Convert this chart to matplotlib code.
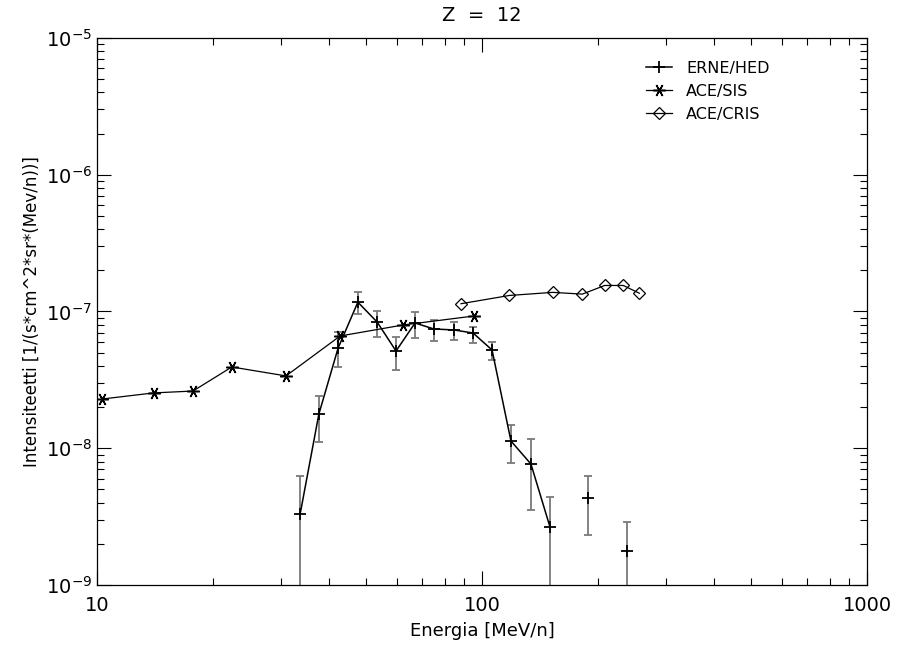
import matplotlib.pyplot as plt
from matplotlib.ticker import LogLocator, NullFormatter

# ERNE/HED (connected part)
erne_e = [33.7, 37.7, 42.3, 47.6, 53.4, 59.8, 67.0, 75.0, 84.6, 94.8, 106.2, 118.9, 134.0, 150.2]
erne_i = [3.30e-9, 1.78e-8, 5.41e-8, 1.17e-7, 8.38e-8, 5.14e-8, 8.24e-8, 7.45e-8, 7.33e-8,
          6.96e-8, 5.23e-8, 1.13e-8, 7.67e-9, 2.65e-9]
erne_lo = [1e-12, 1.12e-8, 3.91e-8, 9.59e-8, 6.55e-8, 3.73e-8, 6.43e-8, 6.08e-8, 6.19e-8,
           5.91e-8, 4.42e-8, 7.84e-9, 3.53e-9, 1e-12]
erne_hi = [6.30e-9, 2.42e-8, 7.12e-8, 1.39e-7, 1.01e-7, 6.51e-8, 9.91e-8, 8.67e-8, 8.38e-8,
           7.74e-8, 6.01e-8, 1.48e-8, 1.17e-8, 4.43e-9]
# ERNE/HED points not joined by the line
erne2_e = [188.5, 238.1]
erne2_i = [4.33e-9, 1.77e-9]
erne2_lo = [2.33e-9, 1e-12]
erne2_hi = [6.30e-9, 2.90e-9]

sis_e = [10.3, 14.06, 17.76, 22.4, 30.97, 42.8, 62.4, 95.3]
sis_i = [2.29e-8, 2.54e-8, 2.62e-8, 3.93e-8, 3.38e-8, 6.62e-8, 7.97e-8, 9.27e-8]

cris_e = [88.2, 117.8, 152.6, 182.2, 208.3, 232.8, 256.2]
cris_i = [1.14e-7, 1.31e-7, 1.38e-7, 1.34e-7, 1.55e-7, 1.55e-7, 1.36e-7]

plt.rcParams['font.family'] = 'DejaVu Sans'
fig = plt.figure(figsize=(8.97, 6.47), dpi=100)
ax = fig.add_axes([0.1081, 0.0958, 0.8585, 0.8455])
ax.set_xscale('log')
ax.set_yscale('log')

grey = '#7a7a7a'
for e, i, lo, hi in [(erne_e, erne_i, erne_lo, erne_hi), (erne2_e, erne2_i, erne2_lo, erne2_hi)]:
    ax.errorbar(e, i, yerr=[[a - b for a, b in zip(i, lo)], [b - a for a, b in zip(i, hi)]],
                fmt='none', ecolor=grey, elinewidth=1.3, capsize=3, capthick=1.3, zorder=2)

ax.plot(erne_e, erne_i, color='black', lw=1.1, marker='+', ms=9, mew=1.3, label='ERNE/HED', zorder=3)
ax.plot(erne2_e, erne2_i, ls='none', color='black', marker='+', ms=9, mew=1.3, zorder=3)
ax.plot(sis_e, sis_i, color='black', lw=0.9, marker=(6, 2, 90), ms=9, mew=1.1, label='ACE/SIS', zorder=3)
ax.plot(cris_e, cris_i, color='black', lw=0.9, marker='D', ms=6, mfc='none', mew=0.9,
        label='ACE/CRIS', zorder=3)

ax.set_xlim(10, 1000)
ax.set_ylim(1e-9, 1e-5)
ax.xaxis.set_minor_locator(LogLocator(base=10, subs=range(2, 10)))
ax.yaxis.set_minor_locator(LogLocator(base=10, subs=range(2, 10)))
ax.xaxis.set_minor_formatter(NullFormatter())
ax.yaxis.set_minor_formatter(NullFormatter())
ax.set_xticks([10, 100, 1000])
ax.set_xticklabels(['10', '100', '1000'])
ax.tick_params(which='both', direction='in', top=True, right=True, labelsize=14, width=0.8)
ax.tick_params(which='major', length=10)
ax.tick_params(which='minor', length=5)
ax.tick_params(axis='x', pad=8)
for s in ax.spines.values():
    s.set_linewidth(0.9)

ax.set_title('Z  =  12', fontsize=14, pad=12)
ax.set_xlabel('Energia [MeV/n]', fontsize=13, labelpad=5)
ax.set_ylabel('Intensiteetti [1/(s*cm^2*sr*(Mev/n))]', fontsize=12, labelpad=4)

ax.legend(loc='upper left', bbox_to_anchor=(0.705, 0.97), frameon=False, fontsize=11.5,
          handlelength=1.6, handletextpad=0.9, labelspacing=0.5, borderaxespad=0)

fig.savefig('out.png', dpi=100)
